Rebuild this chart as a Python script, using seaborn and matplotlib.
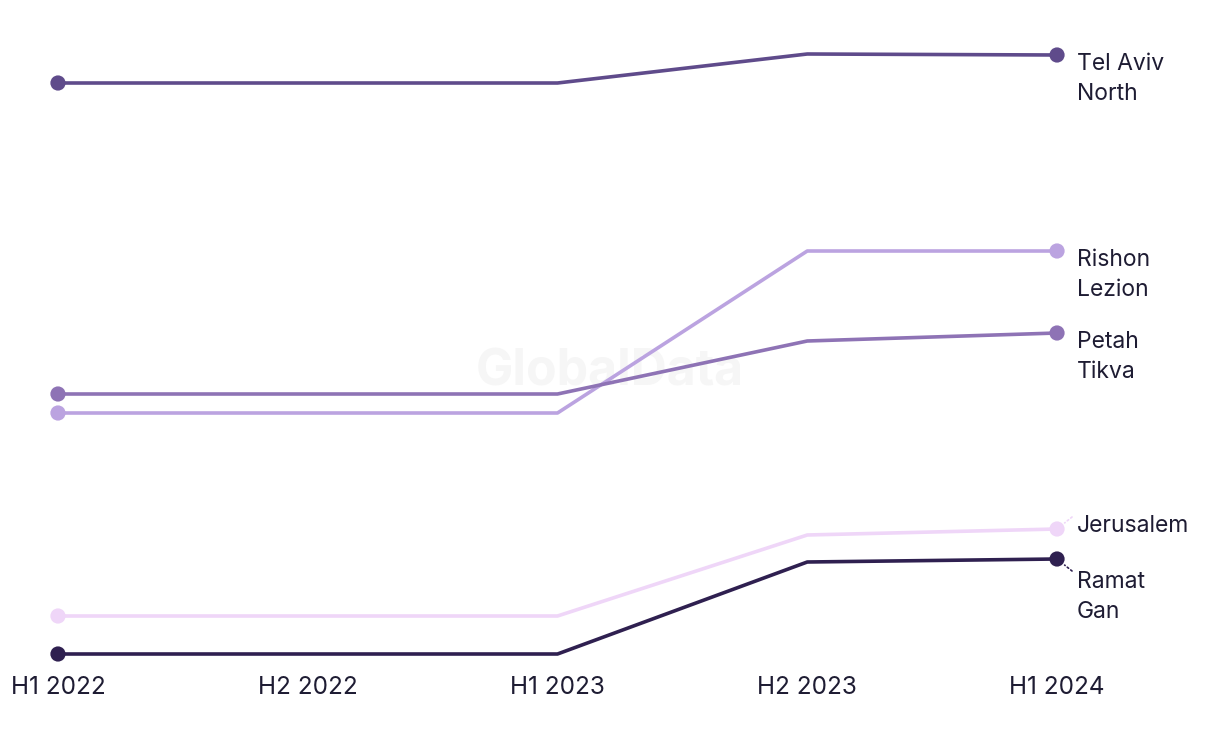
import pandas as pd
import matplotlib
matplotlib.use("Agg")
import matplotlib.pyplot as plt
import seaborn as sns

# -----------------------------------------------------------------
# Datos (índice relativo)
# -----------------------------------------------------------------
periodos = ["H1 2022", "H2 2022", "H1 2023", "H2 2023", "H1 2024"]
ciudades = ["Tel Aviv\nNorth", "Rishon\nLezion", "Petah\nTikva", "Jerusalem", "Ramat\nGan"]

tel_aviv_north = [57.1, 57.1, 57.1, 60.0, 59.9]
rishon_lezion = [24.1, 24.1, 24.1, 40.3, 40.3]
petah_tikva = [26.0, 26.0, 26.0, 31.3, 32.1]
jerusalem = [3.8, 3.8, 3.8, 11.9, 12.5]
ramat_gan = [0.0, 0.0, 0.0, 9.2, 9.5]

colores = ["#5f4b8b", "#bba3e0", "#8e73b5", "#efd6f8", "#2f2050"]
# desplazamiento de la etiqueta (pixeles) respecto al último punto
offsets_y = [2, 2, 2, 14, -12]

series = [tel_aviv_north, rishon_lezion, petah_tikva, jerusalem, ramat_gan]
df = pd.DataFrame([
    {"ciudad": c, "x": i, "valor": v}
    for c, vals in zip(ciudades, series)
    for i, v in enumerate(vals)
])

# -----------------------------------------------------------------
# Gráfico
# -----------------------------------------------------------------
sns.set_theme(style="white")
plt.rcParams["font.family"] = ["Inter", "DejaVu Sans"]
texto = "#1e1c33"

fig = plt.figure(figsize=(12.2, 7.44), dpi=100)
ax = fig.add_axes([33 / 1220, 80 / 744, 1049 / 1220, 630 / 744])

# marca de agua detrás de las líneas
ax.text(0.5, 0.5, "GlobalData", transform=fig.transFigure, ha="center", va="center",
        fontsize=36, fontweight="bold", color="#f6f6f6", zorder=0)

paleta = dict(zip(ciudades, colores))
sns.lineplot(data=df, x="x", y="valor", hue="ciudad", palette=paleta,
             linewidth=2.6, legend=False, ax=ax)
extremos = df[df["x"].isin([0, len(periodos) - 1])]
sns.scatterplot(data=extremos, x="x", y="valor", hue="ciudad", palette=paleta,
                s=120, edgecolor="none", legend=False, ax=ax, zorder=5)

ultimo = len(periodos) - 1
for c, vals, dy in zip(ciudades, series, offsets_y):
    ax.annotate(c, xy=(ultimo, vals[-1]), xytext=(20, dy),
                textcoords="offset pixels", ha="left", va="top",
                fontsize=16.5, color=texto, linespacing=1.5)

# líneas guía punteadas para las etiquetas desplazadas
ax.annotate("", xy=(ultimo, jerusalem[-1]), xytext=(15, 12),
            textcoords="offset pixels",
            arrowprops=dict(arrowstyle="-", linestyle=":", color=colores[3], lw=1.2,
                            shrinkA=0, shrinkB=7))
ax.annotate("", xy=(ultimo, ramat_gan[-1]), xytext=(15, -12),
            textcoords="offset pixels",
            arrowprops=dict(arrowstyle="-", linestyle=":", color=colores[4], lw=1.2,
                            shrinkA=0, shrinkB=7))

ax.set_xlim(-0.1, 4.1)
ax.set_ylim(-1, 62)
ax.set_xticks(range(len(periodos)))
ax.set_xticklabels(periodos, fontsize=17.5, color=texto)
ax.tick_params(axis="x", length=0, pad=9)
ax.set_yticks([])
ax.set_xlabel("")
ax.set_ylabel("")
sns.despine(ax=ax, left=True, bottom=True)

fig.savefig("out.png", dpi=100)
